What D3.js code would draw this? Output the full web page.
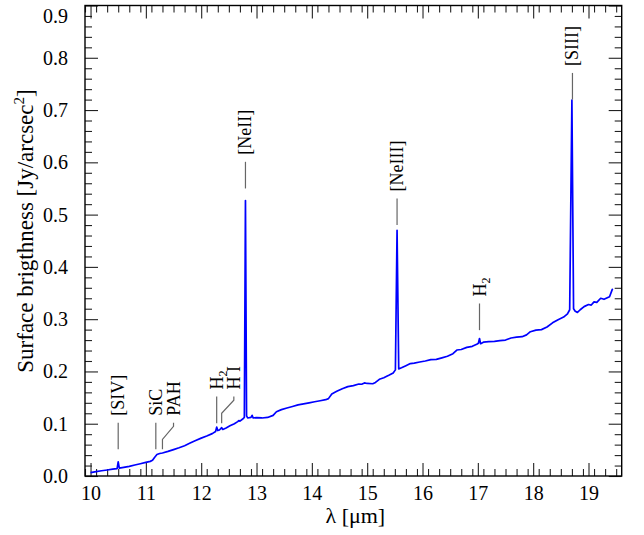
<!DOCTYPE html>
<html><head><meta charset="utf-8">
<script src="https://cdn.jsdelivr.net/npm/d3@7"></script>
<style>
html,body{margin:0;padding:0;background:#fff;}
</style></head>
<body><svg id="c" width="644" height="535"></svg>
<script>
// ---- data ----
const lambda = [10.00,10.10,10.20,10.30,10.40,10.48,10.50,10.52,10.60,10.70,10.80,10.90,11.00,11.08,11.12,11.16,11.20,11.25,11.30,11.40,11.50,11.60,11.70,11.80,11.90,12.00,12.10,12.20,12.26,12.28,12.30,12.33,12.37,12.39,12.45,12.52,12.60,12.66,12.68,12.70,12.75,12.78,12.80,12.82,12.84,12.90,12.92,12.94,13.00,13.10,13.20,13.30,13.36,13.45,13.55,13.65,13.75,13.85,13.95,14.05,14.15,14.25,14.30,14.36,14.45,14.55,14.65,14.75,14.85,14.90,14.95,15.00,15.10,15.15,15.22,15.30,15.40,15.47,15.51,15.54,15.57,15.62,15.70,15.78,15.85,15.95,16.05,16.15,16.25,16.35,16.45,16.55,16.62,16.70,16.80,16.90,16.98,17.01,17.03,17.05,17.10,17.20,17.30,17.40,17.50,17.55,17.60,17.70,17.80,17.88,17.95,18.05,18.15,18.25,18.35,18.45,18.55,18.62,18.66,18.70,18.73,18.76,18.80,18.85,18.92,19.00,19.05,19.10,19.15,19.22,19.28,19.34,19.38,19.43,19.44];
const flux = [0.0065,0.0085,0.0100,0.0115,0.0130,0.0140,0.0270,0.0150,0.0165,0.0185,0.0210,0.0235,0.0260,0.0280,0.0300,0.0360,0.0410,0.0430,0.0440,0.0470,0.0505,0.0540,0.0580,0.0630,0.0680,0.0725,0.0765,0.0810,0.0850,0.0935,0.0870,0.0880,0.0925,0.0890,0.0920,0.0960,0.1000,0.1040,0.1060,0.1050,0.1090,0.1120,0.5270,0.1150,0.1110,0.1120,0.1160,0.1110,0.1115,0.1110,0.1120,0.1160,0.1230,0.1270,0.1300,0.1330,0.1360,0.1380,0.1400,0.1420,0.1440,0.1460,0.1480,0.1570,0.1620,0.1670,0.1710,0.1730,0.1760,0.1755,0.1780,0.1770,0.1765,0.1790,0.1850,0.1880,0.1930,0.1970,0.2030,0.4700,0.2050,0.2070,0.2110,0.2150,0.2160,0.2180,0.2200,0.2225,0.2230,0.2260,0.2290,0.2340,0.2410,0.2420,0.2460,0.2480,0.2520,0.2540,0.2630,0.2530,0.2560,0.2570,0.2575,0.2590,0.2600,0.2620,0.2640,0.2655,0.2665,0.2700,0.2760,0.2790,0.2800,0.2850,0.2930,0.2990,0.3040,0.3100,0.3180,0.7190,0.3200,0.3150,0.3130,0.3180,0.3240,0.3280,0.3270,0.3330,0.3320,0.3400,0.3380,0.3410,0.3430,0.3570,0.3560];

const xTicks = [10,11,12,13,14,15,16,17,18,19];
const yTicks = [0.0,0.1,0.2,0.3,0.4,0.5,0.6,0.7,0.8,0.9];

// annotations: label, line lambda, text lambda, line base (flux)
const annLabel  = ["[SIV]","SiC","PAH","H|2","H I","[NeII]","[NeIII]","H|2","[SIII]"];
const annLambda = [10.50, 11.18, 11.30, 12.28, 12.37, 12.80, 15.54, 17.03, 18.71];
const annTextLambda = [10.50, 11.18, 11.50, 12.28, 12.59, 12.80, 15.54, 17.03, 18.71];
const annBase   = [0.051, 0.051, 0.051, 0.101, 0.101, 0.550, 0.480, 0.279, 0.720];

// ---- layout ----
const FONT = '"Liberation Serif"';
const L = 85, R = 621.7, T = 5.5, B = 476;
const svg = d3.select("#c");
const x = d3.scaleLinear().domain([9.9, 19.6]).range([L, R]);
const y = d3.scaleLinear().domain([0, 0.9]).range([B, T]);

const MAJ = 13, MIN = 7;
const xMinor = d3.range(99, 197, 2).map(d => d/10).filter(d => Math.abs(d - Math.round(d)) > 1e-6);
const yMinor = d3.range(0, 91, 2).map(d => d/100).filter(d => Math.round(d*100) % 10 !== 0);

function fmtY(d){ return d.toFixed(1); }

const gB = svg.append("g").attr("transform", `translate(0,${B})`)
  .call(d3.axisBottom(x).tickValues(xTicks).tickSizeInner(-MAJ).tickSizeOuter(0).tickPadding(10).tickFormat(d3.format("d")));
svg.append("g").attr("transform", `translate(0,${B})`)
  .call(d3.axisBottom(x).tickValues(xMinor).tickSizeInner(-MIN).tickSizeOuter(0).tickFormat(""));
svg.append("g").attr("transform", `translate(0,${T})`)
  .call(d3.axisTop(x).tickValues(xTicks).tickSizeInner(-MAJ).tickSizeOuter(0).tickFormat(""));
svg.append("g").attr("transform", `translate(0,${T})`)
  .call(d3.axisTop(x).tickValues(xMinor).tickSizeInner(-MIN).tickSizeOuter(0).tickFormat(""));
const gL = svg.append("g").attr("transform", `translate(${L},0)`)
  .call(d3.axisLeft(y).tickValues(yTicks).tickSizeInner(-MAJ).tickSizeOuter(0).tickPadding(17).tickFormat(fmtY));
svg.append("g").attr("transform", `translate(${L},0)`)
  .call(d3.axisLeft(y).tickValues(yMinor).tickSizeInner(-MIN).tickSizeOuter(0).tickFormat(""));
svg.append("g").attr("transform", `translate(${R},0)`)
  .call(d3.axisRight(y).tickValues(yTicks).tickSizeInner(-MAJ).tickSizeOuter(0).tickFormat(""));
svg.append("g").attr("transform", `translate(${R},0)`)
  .call(d3.axisRight(y).tickValues(yMinor).tickSizeInner(-MIN).tickSizeOuter(0).tickFormat(""));

svg.selectAll(".domain").remove();
svg.selectAll("g").attr("font-family", null).attr("font-size", null);
svg.selectAll(".tick line").attr("stroke", "#222").attr("stroke-width", 1.1);
svg.selectAll(".tick text").style("font-family", FONT).style("font-size", "20px").attr("fill", "#000");
gB.selectAll(".tick text").attr("dy", "0.71em");
// keep the top label inside the frame, as in the reference
gL.selectAll(".tick text").filter(d => d === 0.9).attr("dy", "0.85em");

// frame
svg.append("rect").attr("x", L).attr("y", T).attr("width", R - L).attr("height", B - T)
  .attr("fill", "none").attr("stroke", "#000").attr("stroke-width", 1.4);

// spectrum
const pts = lambda.map((l, i) => [l, flux[i]]);
svg.append("path").datum(pts)
  .attr("fill", "none").attr("stroke", "#0000ff").attr("stroke-width", 1.7).attr("stroke-linejoin", "round")
  .attr("d", d3.line().x(d => x(d[0])).y(d => y(d[1])));

// annotations
const LINE_LEN = 0.051, KNEE = 0.019, TOPSEG = 0.007, GAP = 7;
annLabel.forEach((lab, i) => {
  const lx = x(annLambda[i]), tx = x(annTextLambda[i]);
  const yb = y(annBase[i]), yt = y(annBase[i] + LINE_LEN);
  let d;
  if (Math.abs(tx - lx) < 0.5) {
    d = `M${lx},${yb}V${yt}`;
  } else {
    d = `M${lx},${yb}V${y(annBase[i] + KNEE)}L${tx},${y(annBase[i] + LINE_LEN - TOPSEG)}V${yt}`;
  }
  svg.append("path").attr("d", d).attr("fill", "none").attr("stroke", "#666").attr("stroke-width", 1.2);
  const t = svg.append("text")
    .attr("transform", `translate(${tx + 6},${yt - GAP}) rotate(-90)`)
    .style("font-family", FONT).style("font-size", "18px").attr("text-anchor", "start");
  const parts = lab.split("|");
  t.append("tspan").text(parts[0]);
  if (parts.length > 1) {
    t.append("tspan").style("font-size", "12px").attr("dy", 4).text(parts[1]);
  }
});

// axis labels
svg.append("text").attr("x", (L + R) / 2 + 2).attr("y", 523).attr("text-anchor", "middle")
  .style("font-family", FONT).style("font-size", "22px").text("λ [μm]");
const yl = svg.append("text").attr("transform", `translate(33,231) rotate(-90)`)
  .attr("text-anchor", "middle").style("font-family", FONT).style("font-size", "23px");
yl.append("tspan").text("Surface brigthness [Jy/arcsec");
yl.append("tspan").style("font-size", "15px").attr("dy", -9).text("2");
yl.append("tspan").attr("dy", 9).text("]");
</script></body></html>
